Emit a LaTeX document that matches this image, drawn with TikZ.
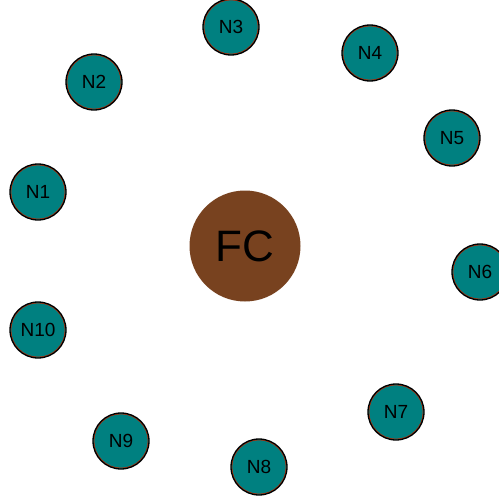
\documentclass[tikz,border=0pt]{standalone}
\usepackage{fontspec}
\setmainfont{Liberation Sans}
\definecolor{leaf}{RGB}{0,128,128}
\definecolor{rim}{RGB}{190,40,0}
\definecolor{core}{RGB}{120,66,31}
\tikzset{
  peer/.style={circle, fill=leaf, draw=black, line width=1.3pt, minimum size=56pt, inner sep=0pt,
    font=\fontsize{19}{19}\selectfont,
    path picture={\draw[rim, line width=0.7pt] (path picture bounding box.center) circle (27.1pt);}},
  hub/.style={circle, fill=core, minimum size=111pt, inner sep=0pt,
    font=\fontsize{44}{44}\selectfont}
}
\begin{document}
\begin{tikzpicture}[x=1pt,y=-1pt]
  \useasboundingbox (0,0) rectangle (499,498);
  \node[hub] (fc) at (245,246) {FC};
  \node[peer] (n1) at (38,192) {N1};
  \node[peer] (n2) at (94,82) {N2};
  \node[peer] (n3) at (231,27) {N3};
  \node[peer] (n4) at (370,53) {N4};
  \node[peer] (n5) at (452,138) {N5};
  \node[peer] (n6) at (480,272) {N6};
  \node[peer] (n7) at (396,412) {N7};
  \node[peer] (n8) at (259,467) {N8};
  \node[peer] (n9) at (121,441) {N9};
  \node[peer] (n10) at (38,330) {N10};
\end{tikzpicture}
\end{document}
